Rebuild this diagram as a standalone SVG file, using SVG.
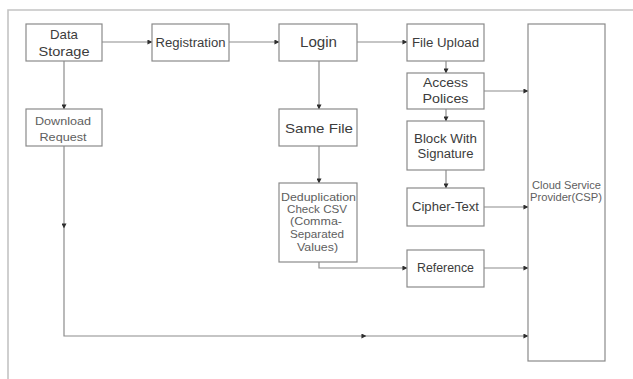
<svg xmlns="http://www.w3.org/2000/svg" width="633" height="379" viewBox="0 0 633 379">
  <style>
    .box { fill: #ffffff; stroke: #8a8a8a; stroke-width: 1.2; }
    .lbl { font-family: "Liberation Sans", Arial, sans-serif; fill: #3c3c3c; text-anchor: middle; }
    .lbl.light { fill: #5e5e5e; }
    .wire { fill: none; stroke: #8c8c8c; stroke-width: 1.2; marker-end: url(#head); }
    .frame { fill: none; stroke: #c4c4c4; stroke-width: 1.6; }
  </style>
  <defs>
    <marker id="head" viewBox="0 0 6 6" refX="5.5" refY="3" markerWidth="5" markerHeight="5" markerUnits="userSpaceOnUse" orient="auto">
      <path d="M0,0 L6,3 L0,6 Z" fill="#2e2e2e"/>
    </marker>
  </defs>
  <rect width="633" height="379" fill="#ffffff"/>
  <!-- page frame -->
  <path class="frame" d="M8,379 V10 H633"/>

  <g id="connectors">
    <path class="wire" d="M102,42 H152"/>
    <path class="wire" d="M229,42 H279"/>
    <path class="wire" d="M357,42 H407"/>
    <path class="wire" d="M446,61 V73"/>
    <path class="wire" d="M446,109 V121"/>
    <path class="wire" d="M446,170 V188"/>
    <path class="wire" d="M484,91 H528"/>
    <path class="wire" d="M484,207 H528"/>
    <path class="wire" d="M484,268 H528"/>
    <path class="wire" d="M319,61 V109"/>
    <path class="wire" d="M319,146 V183"/>
    <path class="wire" d="M319,262 V268 H407"/>
    <path class="wire" d="M64,61 V109"/>
    <path class="wire" d="M64,146 V228"/>
    <path class="wire" d="M64,228 V336 H366"/>
    <path class="wire" d="M366,336 H528"/>
  </g>

  <g id="data-storage">
    <rect class="box" x="26" y="24" width="76" height="37"/>
    <text class="lbl" font-size="13" x="64" y="39" textLength="28" lengthAdjust="spacingAndGlyphs">Data</text>
    <text class="lbl" font-size="13" x="64" y="56" textLength="51" lengthAdjust="spacingAndGlyphs">Storage</text>
  </g>
  <g id="registration">
    <rect class="box" x="152" y="24" width="77" height="37"/>
    <text class="lbl" font-size="12" x="190.5" y="47" textLength="70" lengthAdjust="spacingAndGlyphs">Registration</text>
  </g>
  <g id="login">
    <rect class="box" x="279" y="24" width="78" height="37"/>
    <text class="lbl" font-size="14" x="318.5" y="47" textLength="37" lengthAdjust="spacingAndGlyphs">Login</text>
  </g>
  <g id="file-upload">
    <rect class="box" x="407" y="24" width="77" height="37"/>
    <text class="lbl" font-size="12" x="445.5" y="47" textLength="67" lengthAdjust="spacingAndGlyphs">File Upload</text>
  </g>
  <g id="access-polices">
    <rect class="box" x="407" y="73" width="77" height="36"/>
    <text class="lbl" font-size="12.5" x="445.5" y="87" textLength="45" lengthAdjust="spacingAndGlyphs">Access</text>
    <text class="lbl" font-size="12.5" x="445.5" y="103" textLength="46" lengthAdjust="spacingAndGlyphs">Polices</text>
  </g>
  <g id="block-with-signature">
    <rect class="box" x="407" y="121" width="77" height="49"/>
    <text class="lbl" font-size="12" x="445.5" y="143" textLength="63" lengthAdjust="spacingAndGlyphs">Block With</text>
    <text class="lbl" font-size="12" x="445.5" y="158" textLength="56" lengthAdjust="spacingAndGlyphs">Signature</text>
  </g>
  <g id="cipher-text">
    <rect class="box" x="407" y="188" width="77" height="38"/>
    <text class="lbl" font-size="12" x="445.5" y="211" textLength="67" lengthAdjust="spacingAndGlyphs">Cipher-Text</text>
  </g>
  <g id="reference">
    <rect class="box" x="407" y="250" width="77" height="37"/>
    <text class="lbl" font-size="12" x="445.5" y="272" textLength="57" lengthAdjust="spacingAndGlyphs">Reference</text>
  </g>
  <g id="download-request">
    <rect class="box" x="26" y="109" width="76" height="37"/>
    <text class="lbl light" font-size="11" x="63" y="125" textLength="56" lengthAdjust="spacingAndGlyphs">Download</text>
    <text class="lbl light" font-size="11" x="63" y="141" textLength="47" lengthAdjust="spacingAndGlyphs">Request</text>
  </g>
  <g id="same-file">
    <rect class="box" x="279" y="109" width="78" height="37"/>
    <text class="lbl" font-size="13.5" x="319" y="133" textLength="68" lengthAdjust="spacingAndGlyphs">Same File</text>
  </g>
  <g id="deduplication-check">
    <rect class="box" x="279" y="183" width="78" height="79"/>
    <text class="lbl light" font-size="11" x="318.5" y="201" textLength="75" lengthAdjust="spacingAndGlyphs">Deduplication</text>
    <text class="lbl light" font-size="11" x="317" y="213" textLength="60" lengthAdjust="spacingAndGlyphs">Check CSV</text>
    <text class="lbl light" font-size="11" x="316" y="225" textLength="52" lengthAdjust="spacingAndGlyphs">(Comma-</text>
    <text class="lbl light" font-size="11" x="317" y="238" textLength="54" lengthAdjust="spacingAndGlyphs">Separated</text>
    <text class="lbl light" font-size="11" x="317.5" y="251" textLength="41" lengthAdjust="spacingAndGlyphs">Values)</text>
  </g>
  <g id="cloud-service-provider">
    <rect class="box" x="528" y="24" width="77" height="337"/>
    <text class="lbl light" font-size="10.5" x="566.5" y="189" textLength="69" lengthAdjust="spacingAndGlyphs">Cloud Service</text>
    <text class="lbl light" font-size="10.5" x="566" y="201" textLength="72" lengthAdjust="spacingAndGlyphs">Provider(CSP)</text>
  </g>
</svg>
